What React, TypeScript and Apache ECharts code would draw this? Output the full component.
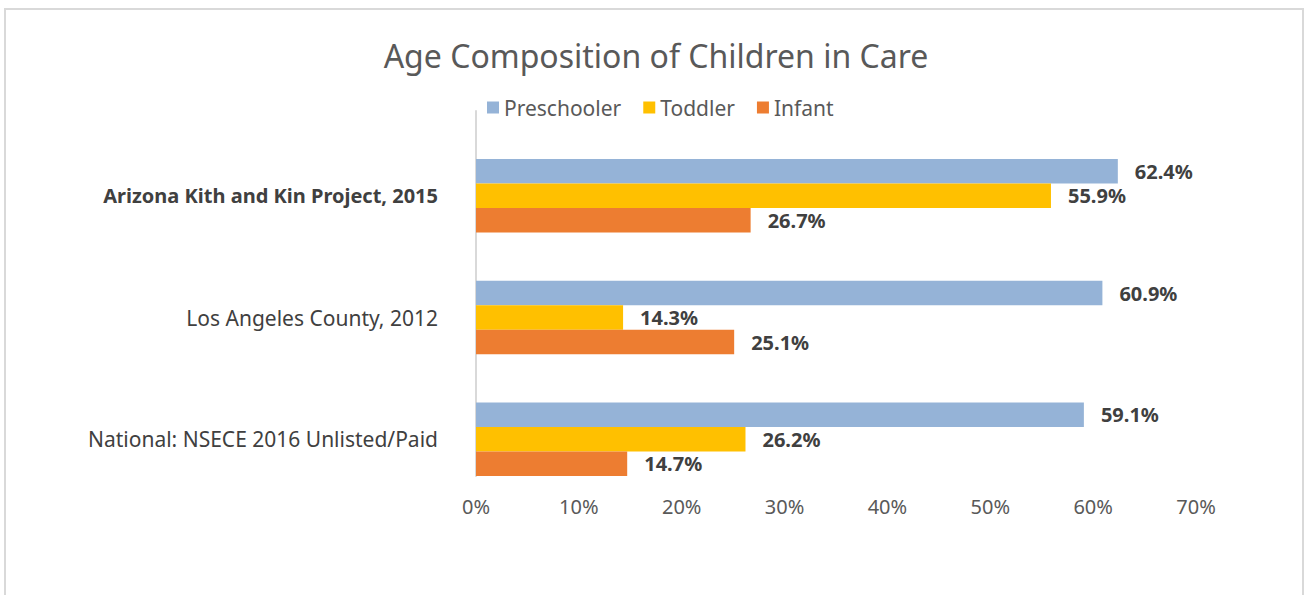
import React, { useEffect, useRef } from "react";
import * as echarts from "echarts";

const categories = [
  "Arizona Kith and Kin Project, 2015",
  "Los Angeles County, 2012",
  "National: NSECE 2016 Unlisted/Paid",
];
const seriesNames = ["Preschooler", "Toddler", "Infant"];
const preschooler = [62.4, 60.9, 59.1];
const toddler = [55.9, 14.3, 26.2];
const infant = [26.7, 25.1, 14.7];
const colors = ["#95B3D7", "#FFC000", "#ED7D31"];
const xTicks = [0, 10, 20, 30, 40, 50, 60, 70];

const FONT = "'Noto Sans', sans-serif";

export default function App() {
  const ref = useRef<HTMLDivElement>(null);
  useEffect(() => {
    if (!ref.current) return;
    const chart = echarts.init(ref.current, null, { renderer: "svg" });
    const values = [preschooler, toddler, infant];
    chart.setOption({
      animation: false,
      textStyle: { fontFamily: FONT },
      title: {
        text: "Age Composition of Children in Care",
        left: 651,
        textAlign: "center",
        top: 34,
        textStyle: { fontFamily: FONT, fontSize: 32, fontWeight: "normal", color: "#595959" },
      },
      legend: {
        data: seriesNames,
        top: 92,
        left: 482,
        itemWidth: 12,
        itemHeight: 12,
        itemGap: 22,
        icon: "rect",
        textStyle: { fontFamily: FONT, fontSize: 21, color: "#595959", padding: [0, 0, 0, 0] },
      },
      graphic: [
        {
          type: "rect",
          shape: { x: 5, y: 9, width: 1298, height: 620 },
          style: { fill: "none", stroke: "#d9d9d9", lineWidth: 2 },
          silent: true,
        },
      ],
      grid: [
        { left: 476, top: 135, width: 720, height: 365 },
        { left: 476, top: 111, width: 720, height: 365 },
      ],
      xAxis: [
        {
          gridIndex: 0,
          type: "value",
          min: 0,
          max: 70,
          interval: 10,
          axisLine: { show: false },
          axisTick: { show: false },
          splitLine: { show: false },
          axisLabel: { show: false },
        },
        {
          gridIndex: 1,
          type: "value",
          min: 0,
          max: 70,
          interval: 10,
          axisLine: { show: false },
          axisTick: { show: false },
          splitLine: { show: false },
          axisLabel: {
            margin: 20,
            fontFamily: FONT,
            fontSize: 20,
            color: "#595959",
            formatter: (v: number) => (xTicks.includes(v) ? v + "%" : ""),
          },
        },
      ],
      yAxis: [
        {
          gridIndex: 0,
          type: "category",
          data: categories,
          inverse: true,
          axisLine: { show: false },
          axisTick: { show: false },
          axisLabel: {
            margin: 38,
            fontFamily: FONT,
            fontSize: 21,
            color: "#404040",
            formatter: (v: string, i: number) => (i === 0 ? "{b|" + v + "}" : v),
            rich: {
              b: { fontFamily: FONT, fontSize: 20, fontWeight: "bold", color: "#404040" },
            },
          },
        },
        {
          gridIndex: 1,
          type: "category",
          data: categories,
          inverse: true,
          axisLine: { show: true, lineStyle: { color: "#d9d9d9", width: 2 } },
          axisTick: { show: false },
          axisLabel: { show: false },
        },
      ],
      series: seriesNames.map((name, si) => ({
        name,
        type: "bar",
        xAxisIndex: 0,
        yAxisIndex: 0,
        data: values[si],
        barWidth: 24.5,
        barGap: "0%",
        itemStyle: { color: colors[si] },
        label: {
          show: true,
          position: "right",
          distance: 17,
          fontFamily: FONT,
          fontSize: 20,
          fontWeight: "bold",
          color: "#404040",
          formatter: (p: any) => p.value.toFixed(1) + "%",
        },
      })),
    });
    return () => chart.dispose();
  }, []);
  return (
    <div
      ref={ref}
      style={{ position: "fixed", left: 0, top: 0, width: 1306, height: 595, background: "#fff" }}
    />
  );
}
